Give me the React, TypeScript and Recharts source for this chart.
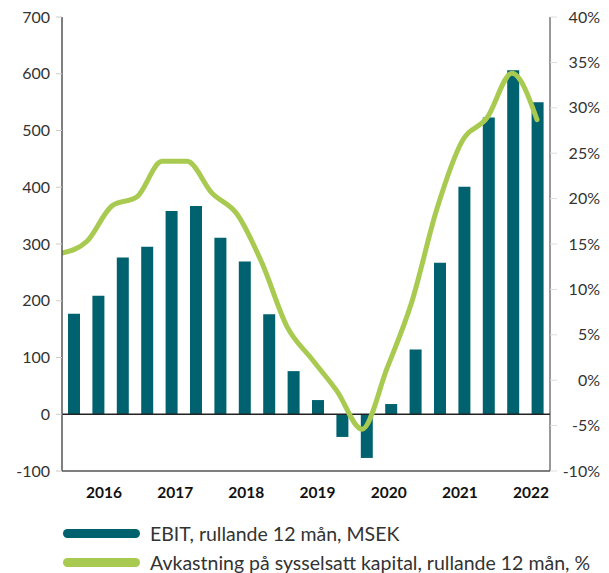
import { ComposedChart, Bar, Line, XAxis, YAxis, ReferenceLine } from "recharts"

const quarters = [
  "K3 2017", "K4 2017", "K1 2018", "K2 2018", "K3 2018", "K4 2018", "K1 2019", "K2 2019",
  "K3 2019", "K4 2019", "K1 2020", "K2 2020", "K3 2020", "K4 2020", "K1 2021", "K2 2021",
  "K3 2021", "K4 2021", "K1 2022", "K2 2022",
]
const ebit = [177, 209, 276, 295, 358, 367, 311, 269, 176, 76, 25, -40, -77, 18, 114, 267, 401, 523, 606, 550]
const roce = [14.0, 15.3, 19.2, 20.2, 24.1, 24.1, 20.6, 18.3, 12.9, 5.9, 2.3, -1.2, -5.4, 1.3, 8.7, 18.9, 26.3, 28.9, 33.8, 28.7]
const years = ["2016", "2017", "2018", "2019", "2020", "2021", "2022"]
const leftTicks = [-100, 0, 100, 200, 300, 400, 500, 600, 700]
const rightTicks = [-10, -5, 0, 5, 10, 15, 20, 25, 30, 35, 40]

const BAR = "#00626F"
const LINE = "#A8CA50"
const FONT = "Lato, 'Noto Sans', sans-serif"

const data = quarters.map((q, i) => ({ q, i, ebit: ebit[i], roce: roce[i] }))
// year labels sit on the line's index axis, spread evenly like in the source sheet
const yearPos = years.map((_, i) => 1.68 + i * 2.847)

const RightTick = ({ x, y, payload }: { x?: number; y?: number; payload?: { value: number } }) => (
  <text x={(x ?? 0) + 41} y={y} dy="0.35em" textAnchor="end" fontSize={16} fill="#333" fontFamily={FONT}>
    {payload?.value}%
  </text>
)

const LegendRow = ({ color, label }: { color: string; label: string }) => (
  <div style={{ display: "flex", alignItems: "center", height: 29 }}>
    <span style={{ display: "inline-block", width: 77, height: 9, borderRadius: 5, background: color }} />
    <span style={{ marginLeft: 10, fontSize: 19.5, color: "#333", fontFamily: FONT, whiteSpace: "nowrap" }}>{label}</span>
  </div>
)

export default function App() {
  return (
    <div style={{ position: "absolute", left: 0, top: 0, width: 609, height: 573, background: "#fff" }}>
      <ComposedChart width={609} height={573} data={data} margin={{ top: 17, right: 0, left: 0, bottom: 72 }}>
        <XAxis
          xAxisId="line"
          dataKey="i"
          type="number"
          domain={[0, 19.52]}
          allowDataOverflow
          ticks={yearPos}
          interval={0}
          tickFormatter={(v: number) => years[yearPos.indexOf(v)] ?? ""}
          height={30}
          axisLine={false}
          tickLine={false}
          tickSize={6}
          tickMargin={10}
          tick={{ fontSize: 15.5, fontWeight: 700, fill: "#111", fontFamily: FONT }}
        />
        <XAxis dataKey="q" xAxisId="bars" hide height={0} />
        <YAxis
          yAxisId="left"
          width={62}
          domain={[-100, 700]}
          ticks={leftTicks}
          interval={0}
          axisLine={{ stroke: "#555", strokeWidth: 1.5 }}
          tickLine={{ stroke: "#ccc" }}
          tickSize={6}
          tickMargin={6}
          tick={{ fontSize: 16, fill: "#333", fontFamily: FONT }}
        />
        <YAxis
          yAxisId="right"
          orientation="right"
          width={59}
          domain={[-10, 40]}
          ticks={rightTicks}
          interval={0}
          axisLine={{ stroke: "#333" }}
          tickLine={{ stroke: "#ddd" }}
          tickSize={7}
          tick={<RightTick />}
        />
        <ReferenceLine yAxisId="left" xAxisId="bars" y={-100} stroke="#555" strokeWidth={1.5} />
        <ReferenceLine yAxisId="left" xAxisId="bars" y={0} stroke="#222" strokeWidth={1.5} />
        <Bar xAxisId="bars" yAxisId="left" dataKey="ebit" fill={BAR} barSize={12} isAnimationActive={false} />
        <Line
          xAxisId="line"
          yAxisId="right"
          type="monotone"
          dataKey="roce"
          stroke={LINE}
          strokeWidth={5}
          strokeLinejoin="round"
          strokeLinecap="round"
          dot={false}
          activeDot={false}
          isAnimationActive={false}
        />
      </ComposedChart>
      <div style={{ position: "absolute", left: 63, top: 519 }}>
        <LegendRow color={BAR} label="EBIT, rullande 12 mån, MSEK" />
        <LegendRow color={LINE} label="Avkastning på sysselsatt kapital, rullande 12 mån, %" />
      </div>
    </div>
  )
}
